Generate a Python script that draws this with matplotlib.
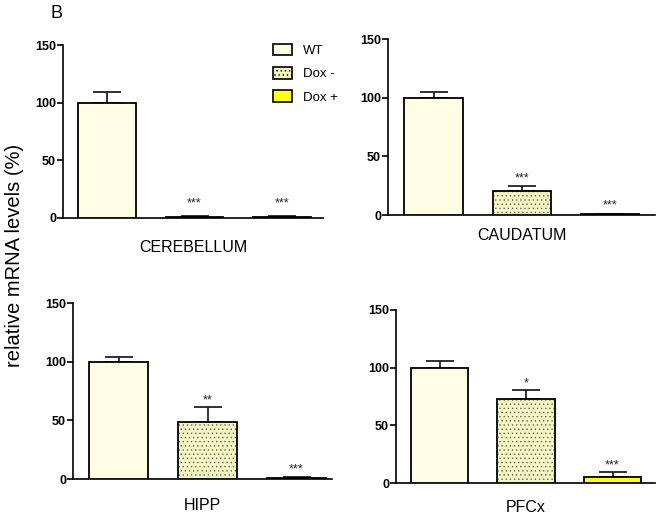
import matplotlib
matplotlib.use("Agg")
import matplotlib.pyplot as plt
from matplotlib.patches import Patch

plt.rcParams['font.family'] = ['Liberation Sans', 'DejaVu Sans']
plt.rcParams['hatch.linewidth'] = 0.5

regions = ['CEREBELLUM', 'CAUDATUM', 'HIPP', 'PFCx']
groups = ['WT', 'Dox -', 'Dox +']
wt_mean = [100, 100, 100, 100]
wt_err = [9, 5, 4, 6]
doxm_mean = [1.0, 20.5, 49, 72.5]
doxm_err = [1.0, 4.5, 12, 8]
doxp_mean = [1.0, 0.5, 1.0, 5]
doxp_err = [0.8, 0.5, 1.0, 4.5]
doxm_sig = ['***', '***', '**', '*']
doxp_sig = ['***', '***', '***', '***']
yticks = [0, 50, 100, 150]

colors = ['#FFFDE3', '#F4F6C6', '#FFFF1A']
hatches = [None, '....', None]
hatch_color = '#6a6a50'

W, H = 659, 517
fig = plt.figure(figsize=(W / 100, H / 100), dpi=100)

# (left, right, top, bottom, first bar center, spacing, title_y) in pixels
layout = [
    (63, 323, 45, 218, 107, 87.5, 247),
    (388, 655, 39, 215, 433.5, 88.25, 236),
    (73, 332, 303, 479, 118.5, 89, 505),
    (396, 655, 310, 483, 439.5, 86.5, 508),
]

for i, (l, r, t, b, c0, sp, ty) in enumerate(layout):
    ax = fig.add_axes([l / W, 1 - b / H, (r - l) / W, (b - t) / H])
    xmin = (l - c0) / sp
    xmax = (r - c0) / sp
    means = [wt_mean[i], doxm_mean[i], doxp_mean[i]]
    errs = [wt_err[i], doxm_err[i], doxp_err[i]]
    for j in range(3):
        if hatches[j]:
            ax.bar(j, means[j], width=0.66, color=colors[j],
                   edgecolor=hatch_color, linewidth=0, hatch=hatches[j],
                   zorder=3)
            ax.bar(j, means[j], width=0.66, color='none', edgecolor='black',
                   linewidth=1.3, zorder=4)
        else:
            ax.bar(j, means[j], width=0.66, color=colors[j],
                   edgecolor='black', linewidth=1.3, zorder=3)
        ax.errorbar(j, means[j], yerr=[[0], [errs[j]]], fmt='none',
                    ecolor='#222222', elinewidth=1.3, capsize=10, capthick=1.3,
                    zorder=2)
    for j, s in ((1, doxm_sig[i]), (2, doxp_sig[i])):
        top = means[j] + errs[j]
        ytxt = max(top + 6, 13 if i == 0 else 8)
        ax.text(j, ytxt, s, ha='center', va='center', fontsize=9,
                color='#222222')
    ax.set_xlim(xmin, xmax)
    ax.set_ylim(0, 150)
    ax.set_yticks(yticks)
    ax.set_xticks([])
    for sp_name in ('top', 'right'):
        ax.spines[sp_name].set_visible(False)
    ax.spines['left'].set_linewidth(1.2)
    ax.spines['bottom'].set_linewidth(1.2)
    ax.tick_params(axis='y', length=4, width=1.2, labelsize=9, pad=1)
    for lab in ax.get_yticklabels():
        lab.set_fontweight('bold')
    ax.patch.set_alpha(0)
    fig.text(((l + r) / 2) / W, 1 - ty / H, regions[i],
             ha='center', va='center', fontsize=11.5)

fig.text(56 / W, 1 - 13 / H, 'B', ha='center', va='center', fontsize=13)
fig.text(15 / W, 1 - 255 / H, 'relative mRNA levels (%)', rotation=90,
         ha='center', va='center', fontsize=14.5)

handles = []
for k in range(3):
    handles.append(Patch(facecolor=colors[k], edgecolor='black', linewidth=1.2,
                         hatch=hatches[k]))
fig.legend(handles, groups, loc='upper left',
           bbox_to_anchor=(266 / W, 1 - 37 / H), frameon=False, fontsize=9.5,
           handlelength=1.5, handleheight=1.0, handletextpad=0.8,
           labelspacing=0.75, borderpad=0)

fig.savefig('out.png', dpi=100)
